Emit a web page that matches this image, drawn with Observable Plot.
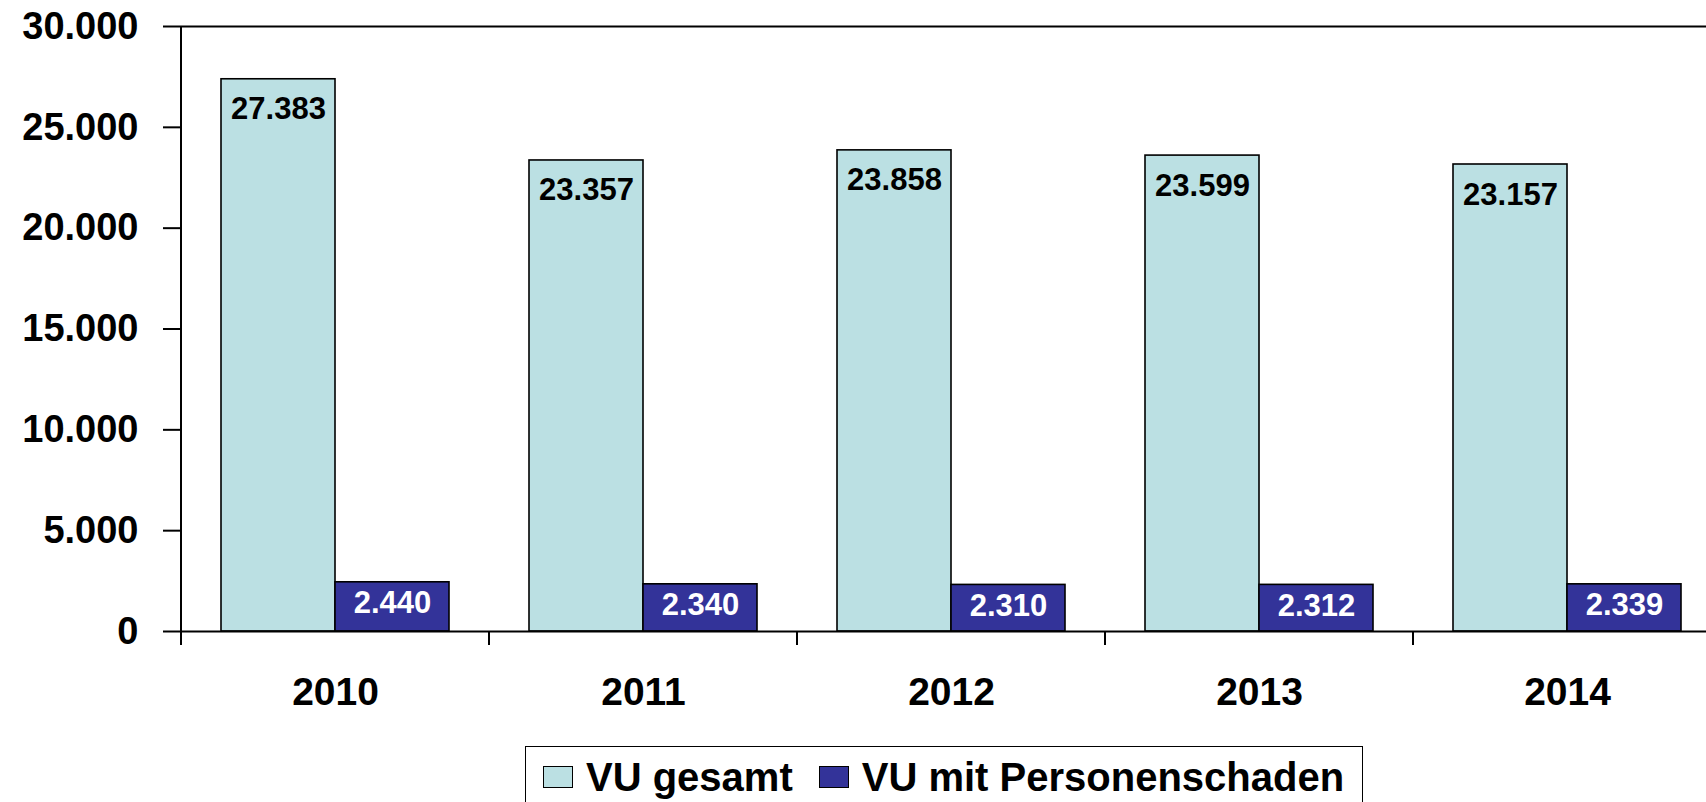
<!DOCTYPE html>
<html><head><meta charset="utf-8">
<script src="https://cdn.jsdelivr.net/npm/d3@7"></script>
<script src="https://cdn.jsdelivr.net/npm/@observablehq/plot@0.6"></script>
<style>
html,body{margin:0;padding:0;background:#fff;overflow:hidden;width:1706px;height:802px;}
#wrap{position:relative;width:1706px;height:802px;overflow:hidden;}
#legend{position:absolute;left:525px;top:746px;width:838px;height:58px;border:1.5px solid #000;box-sizing:border-box;
  padding:10px 0 0 17px;font-family:"Liberation Sans",Arial,sans-serif;font-weight:bold;font-size:40px;line-height:40px;color:#000;display:flex;overflow:hidden;}
#legend .item{display:flex;align-items:center;white-space:nowrap;height:40px;}
#legend .sw{display:inline-block;width:28px;height:20px;border:1.5px solid #000;margin-right:13px;position:relative;top:0px;}
</style></head><body><div id="wrap"><div id="chart"></div><div id="legend"></div></div>
<script>
const years = ["2010", "2011", "2012", "2013", "2014"];
const seriesNames = ["VU gesamt", "VU mit Personenschaden"];
const vuGesamt = [27383, 23357, 23858, 23599, 23157];
const vuPersonen = [2440, 2340, 2310, 2312, 2339];
const seriesColors = ["#BBE0E3", "#333399"];
const yTicks = [0, 5000, 10000, 15000, 20000, 25000, 30000];

const de = d3.formatLocale({decimal: ",", thousands: ".", grouping: [3], currency: ["", "€"]});
const fmt = de.format(",");

const rows = years.flatMap((yr, i) => [
  {year: yr, series: seriesNames[0], value: vuGesamt[i]},
  {year: yr, series: seriesNames[1], value: vuPersonen[i]}
]);
const font = '"Liberation Sans", Arial, sans-serif';

const chart = Plot.plot({
  width: 1730, height: 740,
  marginLeft: 180, marginRight: 8, marginTop: 26, marginBottom: 109,
  style: {fontFamily: font, fontWeight: "bold", maxWidth: "none", overflow: "visible", background: "white", color: "#000"},
  fx: {domain: years, padding: 0, label: null},
  x: {domain: seriesNames, paddingInner: 0, paddingOuter: 0.35, axis: null},
  y: {domain: [0, 30000], label: null},
  color: {domain: seriesNames, range: seriesColors},
  marks: [
    Plot.ruleY([30000], {stroke: "#000", strokeWidth: 2}),
    Plot.barY(rows, {fx: "year", x: "series", y: "value", fill: "series", stroke: "#000", strokeWidth: 1.6}),
    Plot.ruleY([0], {stroke: "#000", strokeWidth: 2}),
    Plot.text(rows.filter(d => d.series === seriesNames[0]), {
      fx: "year", x: "series", y: "value", text: d => fmt(d.value),
      lineAnchor: "top", dy: 18, fill: "#000", fontSize: 31, fontWeight: "bold"
    }),
    Plot.text(rows.filter(d => d.series === seriesNames[1]), {
      fx: "year", x: "series", y: "value", text: d => fmt(d.value),
      lineAnchor: "top", dy: 9, fill: "#fff", fontSize: 31, fontWeight: "bold"
    }),
    Plot.axisY({ticks: yTicks, tickFormat: fmt, tickSize: 18, tickPadding: 25, fontSize: 38, fontWeight: "bold", stroke: "#000", strokeWidth: 2, label: null}),
    Plot.axisFx({anchor: "bottom", tickSize: 0, tickPadding: 46, fontSize: 39, fontWeight: "bold", label: null})
  ]
});
document.getElementById("chart").appendChild(chart);

// axis line and category boundary ticks, placed with the plot's own scales
const fxS = chart.scale("fx"), yS = chart.scale("y");
const fxAt = v => fxS.apply ? fxS.apply(v) : fxS.range[0] + fxS.domain.indexOf(v) * fxS.step;
const yAt = v => yS.apply ? yS.apply(v) : yS.range[0] + (yS.range[1] - yS.range[0]) * (v - yS.domain[0]) / (yS.domain[1] - yS.domain[0]);
const bw = fxS.bandwidth != null ? fxS.bandwidth : fxS.step;
const y0 = yAt(0), yTop = yAt(d3.max(yTicks));
const edges = years.map(fxAt).concat([fxAt(years[years.length - 1]) + bw]);
const g = d3.select(chart).append("g").attr("stroke", "#000").attr("stroke-width", 2);
g.append("line").attr("x1", edges[0]).attr("x2", edges[0]).attr("y1", yTop).attr("y2", y0 + 14);
edges.forEach(x => g.append("line").attr("x1", x).attr("x2", x).attr("y1", y0).attr("y2", y0 + 14));

// legend
const leg = d3.select("#legend");
seriesNames.forEach((s, i) => {
  const it = leg.append("div").attr("class", "item").style("margin-right", i === 0 ? "26px" : "0");
  it.append("span").attr("class", "sw").style("background", seriesColors[i]);
  it.append("span").text(s);
});
</script></body></html>
